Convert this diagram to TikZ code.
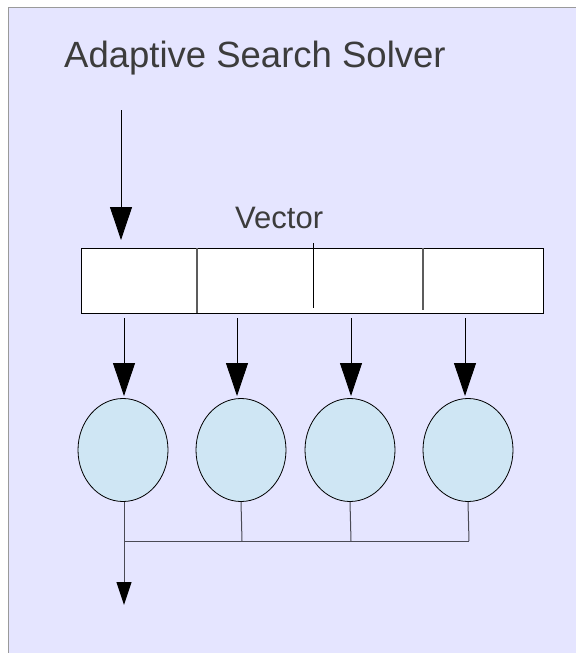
\documentclass[tikz,border=0pt]{standalone}
\usepackage{fontspec}
\setmainfont{Liberation Sans}
\usetikzlibrary{arrows.meta,shapes.geometric}
\definecolor{panel}{HTML}{E5E5FF}
\definecolor{panelrule}{HTML}{9A9A9A}
\definecolor{cellfill}{HTML}{FFFFFF}
\definecolor{worker}{HTML}{CFE6F4}
\definecolor{labelgray}{HTML}{3C3C3C}
\definecolor{busgray}{HTML}{4A4A55}
\tikzset{
  bigtip/.style={-{Triangle[width=22pt,length=33pt]}, line width=0.9pt},
  smalltip/.style={-{Triangle[width=15pt,length=23pt,color=black]}, line width=1pt, draw=busgray},
  workernode/.style={ellipse, draw=black, line width=0.8pt, fill=worker,
    minimum width=90pt, minimum height=103pt, inner sep=0pt},
  vectorbox/.style={draw=black, line width=1pt, fill=cellfill,
    minimum width=462pt, minimum height=65pt, inner sep=0pt},
  bus/.style={draw=busgray, line width=1pt},
  title/.style={text=labelgray, font=\fontsize{36.5}{42}\selectfont, inner sep=0pt},
}
\begin{document}
\begin{tikzpicture}[x=1pt,y=-1pt]
  \useasboundingbox (0,0) rectangle (576,653);
  % panel
  \fill[panel] (8,7) rectangle (576,653);
  \draw[panelrule, line width=1pt] (8.5,653) -- (8.5,7.5) -- (576,7.5);

  % headings
  \node[title, anchor=base west] (heading) at (64,67) {Adaptive Search Solver};
  \node[title, anchor=base west, font=\fontsize{31}{36}\selectfont] (veclabel) at (235,228) {Vector};

  % the vector and its cells
  \node[vectorbox, anchor=north west] (vec) at (81,248) {};
  \draw[panelrule!60!black, line width=1.2pt] (197,248) -- (197,313);
  \draw[black, line width=1pt] (313,243) -- (313,308);
  \draw[panelrule!60!black, line width=1.2pt] (423,248) -- (423,310);

  % input arrow
  \coordinate (inp) at (121,110);
  \coordinate (inq) at (121,240);
  \draw[bigtip] (inp) -- (inq);

  % workers
  \node[workernode] (w1) at (123,450) {};
  \node[workernode] (w2) at (241,450) {};
  \node[workernode] (w3) at (350,450) {};
  \node[workernode] (w4) at (468,450) {};

  % arrows from the vector to the workers
  \foreach \i/\x in {1/124,2/237,3/351,4/465}{
    \coordinate (s\i) at (\x,318);
    \coordinate (t\i) at (\x,396);
    \draw[bigtip] (s\i) -- (t\i);
  }

  % collecting bus
  \coordinate (b1) at (124,541);
  \coordinate (b2) at (242,541);
  \coordinate (b3) at (351,541);
  \coordinate (b4) at (469,541);
  \draw[bus] (w2.south) -- (b2);
  \draw[bus] (w3.south) -- (b3);
  \draw[bus] (w4.south) -- (b4);
  \draw[bus] (b1) -- (b4);
  \coordinate (outp) at (124,605);
  \draw[smalltip] (w1.south -| b1) -- (outp);
\end{tikzpicture}
\end{document}
